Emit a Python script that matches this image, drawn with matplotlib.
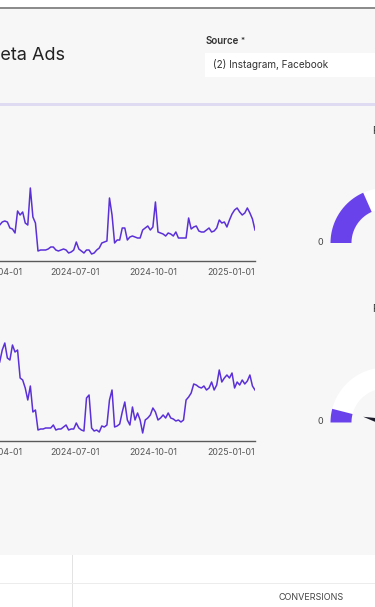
import matplotlib
matplotlib.use('Agg')
import matplotlib.pyplot as plt
import matplotlib.dates as mdates
from matplotlib.patches import Rectangle, Polygon
import numpy as np
import pandas as pd

plt.rcParams['font.family'] = ['Inter', 'DejaVu Sans']

W, H, DPI = 375, 607, 100

# ---------------- data ----------------
dates = pd.date_range('2024-04-04', periods=101, freq='3D')
spend = [36, 39, 40, 39, 33, 32, 28, 50, 46, 49, 38, 36, 73, 44, 38, 10, 11, 11, 11, 12,
         14, 14, 11, 10, 11, 12, 11, 8, 9, 11, 19, 12, 10, 8, 11, 11, 7, 8, 11, 13,
         18, 19, 20, 63, 46, 18, 21, 21, 33, 33, 21, 24, 25, 24, 23, 23, 31, 33, 35, 31,
         34, 59, 29, 28, 27, 25, 28, 27, 25, 29, 23, 23, 23, 23, 43, 32, 34, 35, 30, 29,
         29, 31, 33, 29, 30, 33, 41, 38, 39, 34, 41, 47, 51, 53, 49, 46, 48, 53, 48, 42, 31]
conversions = [79, 91, 98, 83, 81, 96, 89, 91, 63, 61, 53, 41, 55, 29, 31, 11, 12, 12, 13, 13,
               13, 16, 11, 12, 12, 14, 16, 11, 12, 12, 18, 13, 11, 10, 43, 46, 13, 10, 11, 9,
               15, 14, 16, 41, 51, 14, 15, 17, 29, 39, 21, 16, 34, 21, 28, 21, 8, 21, 23, 26,
               33, 29, 21, 23, 26, 23, 28, 23, 22, 20, 21, 19, 21, 41, 44, 48, 57, 56, 54, 53,
               55, 51, 53, 59, 51, 56, 71, 59, 63, 66, 63, 68, 53, 59, 56, 61, 57, 60, 66, 55, 51]
tick_dates = ['2024-04-01', '2024-07-01', '2024-10-01', '2025-01-01']
x_start, x_end = '2024-01-01', '2025-01-29'

gauge_titles = ['Frequency', 'Return']
gauge_values = [0.367, 0.08]
gauge_min_label = '0'

page_title = 'Meta Ads'
filter_label = 'Source'
filter_value = '(2) Instagram, Facebook'
table_header = 'CONVERSIONS'

# ---------------- style ----------------
PURPLE = '#5b30d8'
GAUGE = '#6a42ec'
PANEL = '#f7f7f7'

fig = plt.figure(figsize=(W / DPI, H / DPI), dpi=DPI)
fig.patch.set_facecolor('white')

bg = fig.add_axes([0, 0, 1, 1])
bg.set_xlim(0, W)
bg.set_ylim(H, 0)
bg.axis('off')

# page frame
bg.add_patch(Rectangle((0, 6.5), W, 2.0, color='#8c8c8c', lw=0))
bg.add_patch(Rectangle((0, 8.5), W, 546.5, color=PANEL, lw=0))
bg.add_patch(Rectangle((0, 103.3), W, 2.2, color='#dedbf3', lw=0))

# header
bg.text(-15.5, 55.5, page_title, fontsize=13, color='#222222', va='center', ha='left')
bg.text(206, 41.5, filter_label, fontsize=7, fontweight='semibold', color='#333333',
        va='center', ha='left')
bg.text(240.3, 39.3, '*', fontsize=5.5, fontweight='semibold', color='#333333',
        va='center', ha='left')
bg.add_patch(Rectangle((205, 53), W - 205, 24, color='white', lw=0))
bg.text(212.7, 65, filter_value, fontsize=7.2, color='#333333', va='center', ha='left')

# bottom table area
bg.add_patch(Rectangle((72.2, 555), 1.0, 52, color='#e3e3e3', lw=0))
bg.add_patch(Rectangle((0, 582.6), W, 0.9, color='#ececec', lw=0))
bg.text(311, 598, table_header, fontsize=6.5, color='#444444', va='center', ha='center')


# ---------------- line charts ----------------
def px_axes(left, top, right, bottom):
    return fig.add_axes([left / W, 1 - bottom / H, (right - left) / W, (bottom - top) / H])


n_days = (pd.Timestamp(x_end) - pd.Timestamp(x_start)).days
px_per_day = 0.851
left_px = 255 - n_days * px_per_day

for series, top, bottom in [(spend, 131, 261), (conversions, 311, 441)]:
    ax = px_axes(left_px, top, 255, bottom)
    ax.patch.set_alpha(0)
    ax.plot(dates, series, color=PURPLE, lw=1.1, solid_joinstyle='round')
    ax.set_xlim(pd.Timestamp(x_start), pd.Timestamp(x_end))
    ax.set_ylim(0, 130)
    for s in ['top', 'right', 'left']:
        ax.spines[s].set_visible(False)
    ax.spines['bottom'].set_color('#5a5a5a')
    ax.spines['bottom'].set_linewidth(1.0)
    ax.set_yticks([])
    ax.set_xticks(pd.to_datetime(tick_dates))
    ax.xaxis.set_major_formatter(mdates.DateFormatter('%Y-%m-%d'))
    ax.tick_params(axis='x', length=0, pad=5, labelsize=6.3, labelcolor='#555555')


# ---------------- gauges ----------------
def arc_poly(cx, cy, r_in, r_out, a0, a1, n=60):
    a = np.radians(np.linspace(a0, a1, n))
    outer = np.column_stack([cx + r_out * np.cos(a), cy - r_out * np.sin(a)])
    inner = np.column_stack([cx + r_in * np.cos(a[::-1]), cy - r_in * np.sin(a[::-1])])
    return np.vstack([outer, inner])


for (cy, title_y), title, val in zip([(243, 131), (422.5, 309)], gauge_titles, gauge_values):
    cx, r_in, r_out = 385.5, 34, 55
    bg.add_patch(Polygon(arc_poly(cx, cy, r_in, r_out, 0, 180), closed=True,
                         facecolor='white', edgecolor='none'))
    end = 180 - 180 * val
    bg.add_patch(Polygon(arc_poly(cx, cy, r_in, r_out, end, 180), closed=True,
                         facecolor=GAUGE, edgecolor='none'))
    th = np.radians(end)
    tip = (cx + 23 * np.cos(th), cy - 23 * np.sin(th))
    px, py = -np.sin(th), -np.cos(th)
    bg.add_patch(Polygon([tip, (cx + 3.5 * px, cy + 3.5 * py), (cx - 3.5 * px, cy - 3.5 * py)],
                         closed=True, facecolor='#1c1c2b', edgecolor='none'))
    bg.text(320, cy - 0.5, gauge_min_label, fontsize=6.5, color='#444444', va='center', ha='center')
    bg.text(372.3, title_y, title, fontsize=7.5, color='#333333', va='center', ha='left')

fig.savefig('out.png', dpi=DPI, facecolor='white')
